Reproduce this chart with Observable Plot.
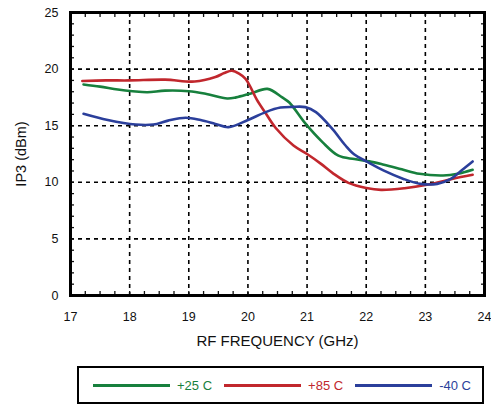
<!DOCTYPE html>
<html><head><meta charset="utf-8">
<script src="https://cdn.jsdelivr.net/npm/d3@7"></script>
<script src="https://cdn.jsdelivr.net/npm/@observablehq/plot@0.6"></script>
<style>
body{margin:0;background:#fff;font-family:"Liberation Sans",Arial,sans-serif;}
#wrap{position:relative;width:491px;height:406px;}
#legend{position:absolute;left:77px;top:366px;width:403px;height:34px;border:2px solid #000;display:flex;align-items:center;font-size:13px;}
#legend .ln{width:77px;height:3px;}
#legend .it{display:flex;align-items:center;}
#legend .tx{margin-left:7px;}
</style>
</head><body>
<div id="wrap"><div id="chart"></div><div id="legend"></div></div>
<script>
const freq25 = [17.22,17.5,17.8,18.05,18.3,18.6,19.0,19.3,19.65,19.8,20.05,20.33,20.58,20.7,20.97,21.26,21.53,21.8,22.05,22.3,22.6,22.9,23.3,23.55,23.8];
const ip25   = [18.64,18.45,18.2,18.05,17.96,18.1,18.05,17.8,17.4,17.5,17.85,18.25,17.5,17.05,15.2,13.55,12.35,12.05,11.85,11.55,11.15,10.75,10.6,10.75,11.1];
const freq85 = [17.2,17.6,18.0,18.6,19.1,19.45,19.6,19.73,19.85,19.96,20.05,20.15,20.3,20.47,20.77,21.0,21.23,21.45,21.7,22.0,22.25,22.65,23.05,23.45,23.8];
const ip85   = [18.95,19.0,19.0,19.07,18.9,19.3,19.65,19.85,19.6,19.14,18.35,17.3,16.1,14.8,13.25,12.5,11.65,10.75,9.95,9.5,9.33,9.48,9.8,10.3,10.66];
const freqM40 = [17.22,17.63,18.1,18.4,18.65,18.95,19.2,19.45,19.67,20.0,20.3,20.55,20.75,20.97,21.15,21.43,21.65,21.8,22.02,22.29,22.63,22.92,23.2,23.43,23.6,23.8];
const ipM40   = [16.05,15.5,15.1,15.1,15.45,15.7,15.5,15.16,14.87,15.5,16.2,16.6,16.66,16.64,16.2,14.7,13.25,12.45,11.8,11.05,10.3,9.86,9.86,10.3,11.0,11.84];
const seriesNames = ["+25 C","+85 C","-40 C"];
const seriesColors = ["#17803d","#c1272d","#2b3f9b"];
const xTicks = [17,18,19,20,21,22,23,24];
const yTicks = [0,5,10,15,20,25];

const rows = [];
[[freq25,ip25],[freq85,ip85],[freqM40,ipM40]].forEach(([f,v],i)=>{
  f.forEach((x,j)=>rows.push({series:seriesNames[i],f:x,ip:v[j]}));
});
const minorX = d3.range(17,24.001,0.25);
const minorY = d3.range(0,25.001,1);

const chart = Plot.plot({
  width:491, height:360,
  marginLeft:70, marginRight:7, marginTop:12, marginBottom:65,
  style:{fontFamily:"Liberation Sans, Arial, sans-serif", fontSize:"12px", color:"#111"},
  x:{domain:[17,24]},
  y:{domain:[0,25]},
  color:{domain:seriesNames, range:seriesColors},
  marks:[
    Plot.gridX(xTicks.slice(1,-1),{stroke:"#000",strokeOpacity:1,strokeWidth:1.6,strokeDasharray:"4,4"}),
    Plot.gridY(yTicks.slice(1,-1),{stroke:"#000",strokeOpacity:1,strokeWidth:1.6,strokeDasharray:"4,4"}),
    Plot.axisX(minorX,{anchor:"bottom",tickSize:-4,tickFormat:()=>"",label:null,strokeWidth:1.3}),
    Plot.axisX(minorX,{anchor:"top",tickSize:-4,tickFormat:()=>"",label:null,strokeWidth:1.3}),
    Plot.axisY(minorY,{anchor:"left",tickSize:-4,tickFormat:()=>"",label:null,strokeWidth:1.3}),
    Plot.axisY(minorY,{anchor:"right",tickSize:-4,tickFormat:()=>"",label:null,strokeWidth:1.3}),
    Plot.axisX(xTicks,{anchor:"bottom",tickSize:0,tickPadding:17,label:null,fontSize:12.5}),
    Plot.axisX(xTicks,{anchor:"bottom",tickSize:0,tickFormat:()=>"",label:"RF FREQUENCY (GHz)",labelAnchor:"center",labelArrow:"none",labelOffset:50,fontSize:15}),
    Plot.axisY(yTicks,{anchor:"left",tickSize:0,tickPadding:12,label:null,fontSize:12.5}),
    Plot.axisY(yTicks,{anchor:"left",tickSize:0,tickFormat:()=>"",label:"IP3 (dBm)",labelAnchor:"center",labelArrow:"none",labelOffset:55,fontSize:14.5}),
    Plot.line(rows,{x:"f",y:"ip",z:"series",stroke:"series",strokeWidth:2.6,curve:"catmull-rom"}),
    Plot.frame({stroke:"#000",strokeWidth:3})
  ]
});
document.getElementById("chart").appendChild(chart);

const lg = document.getElementById("legend");
seriesNames.forEach((n,i)=>{
  const it = document.createElement("div");
  it.className="it";
  it.style.marginLeft = i===0 ? "14px" : "12px";
  it.innerHTML = `<div class="ln" style="background:${seriesColors[i]}"></div><span class="tx" style="color:${seriesColors[i]}">${n}</span>`;
  lg.appendChild(it);
});
</script>
</body></html>
